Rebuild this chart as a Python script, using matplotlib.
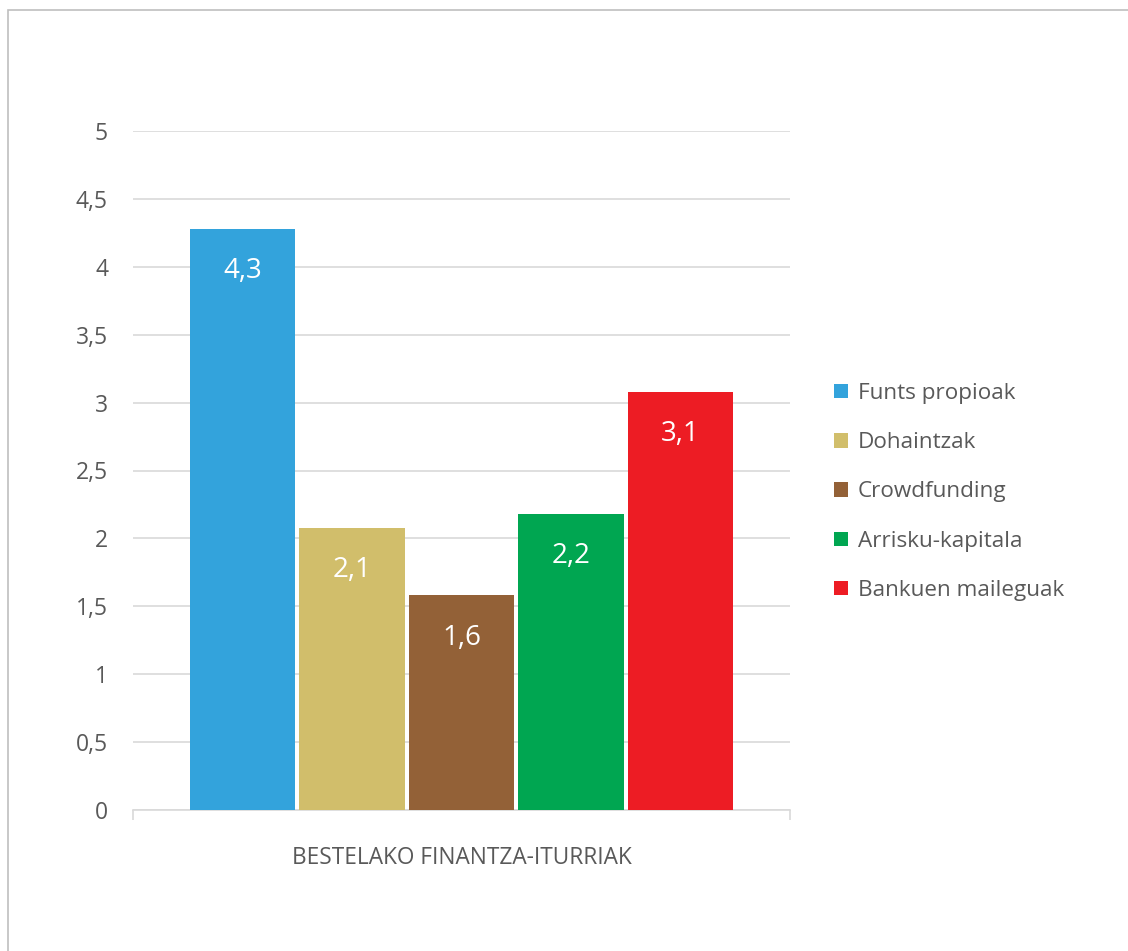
import matplotlib
matplotlib.use("Agg")
import matplotlib.pyplot as plt
from matplotlib.patches import Rectangle, Patch

plt.rcParams["font.family"] = ["Open Sans", "DejaVu Sans"]

series = ["Funts propioak", "Dohaintzak", "Crowdfunding", "Arrisku-kapitala", "Bankuen maileguak"]
values = [4.28, 2.08, 1.58, 2.18, 3.08]
colors = ["#33A3DC", "#D1BE6B", "#936137", "#00A651", "#ED1C24"]
category = "BESTELAKO FINANTZA-ITURRIAK"
yticks = [0, 0.5, 1, 1.5, 2, 2.5, 3, 3.5, 4, 4.5, 5]

text_color = "#595959"
grid_color = "#D9D9D9"

fig = plt.figure(figsize=(11.28, 9.51), dpi=100)
fig.patches.append(Rectangle((8 / 1128, -0.1), 1.2, 1 - 10 / 951 + 0.1,
                             transform=fig.transFigure, fill=False,
                             edgecolor="#BFBFBF", linewidth=1.2))

ax = fig.add_axes([133 / 1128, 141 / 951, 657 / 1128, 679 / 951])
positions = [i - 2 for i in range(len(values))]
bars = ax.bar(positions, values, width=0.96, color=colors, zorder=3)

for b, v in zip(bars, values):
    ax.annotate(f"{v:.1f}".replace(".", ","), (b.get_x() + b.get_width() / 2, v),
                xytext=(0, -30.5), textcoords="offset points",
                ha="center", va="center", color="white", fontsize=20, zorder=4)

ax.set_xlim(-3, 3)
ax.set_ylim(0, 5)
ax.set_yticks(yticks)
ax.set_yticklabels([f"{t:g}".replace(".", ",") for t in yticks])
ax.tick_params(axis="y", length=0, pad=18, labelsize=16.5, labelcolor=text_color)
ax.set_xticks([-3, 3])
ax.set_xticklabels(["", ""])
ax.tick_params(axis="x", length=7, color=grid_color, width=1.2, direction="out")
ax.grid(axis="y", color=grid_color, linewidth=1.2, zorder=0)
for s in ["top", "right", "left"]:
    ax.spines[s].set_visible(False)
ax.spines["bottom"].set_color(grid_color)
ax.spines["bottom"].set_linewidth(1.2)
ax.text(0, -0.35, category, ha="center", va="center", fontsize=16.3,
        color=text_color, transform=ax.transData)

handles = [Patch(facecolor=c, label=s) for c, s in zip(colors, series)]
fig.legend(handles=handles, loc="center left", bbox_to_anchor=(825 / 1128, 1 - 492 / 951),
           frameon=False, fontsize=16.2, labelcolor=text_color, handlelength=0.6,
           handleheight=0.6, handletextpad=0.45, labelspacing=1.25, borderaxespad=0)

fig.savefig("out.png", dpi=100)
